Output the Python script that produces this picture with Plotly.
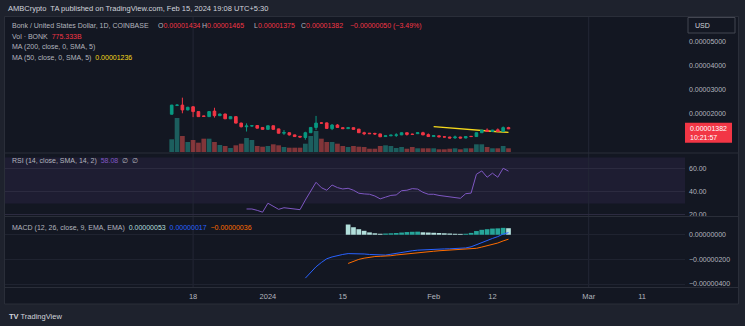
import pandas as pd
import plotly.graph_objects as go

# ---------------- data ----------------
PRICE_UNIT = 1e-5      # OHLC / MA lists are in units of 0.00001 USD
MACD_UNIT = 1e-6       # MACD lists are in units of 0.000001

dates = pd.date_range("2023-12-14", periods=64, freq="D")

open_ = [1.99, 2.36, 2.37, 2.17, 2.30, 2.10, 1.92, 1.89, 2.12, 1.93,
         2.00, 1.80, 1.89, 1.62, 1.47, 1.50, 1.52, 1.44, 1.36, 1.51,
         1.38, 1.20, 1.22, 1.13, 1.07, 1.02, 1.22, 1.44, 1.63, 1.63,
         1.39, 1.54, 1.43, 1.39, 1.43, 1.37, 1.22, 1.20, 1.19, 1.17,
         1.06, 1.09, 1.11, 1.13, 1.22, 1.16, 1.18, 1.22, 1.14, 1.06,
         1.09, 1.05, 1.04, 1.01, 1.04, 1.00, 1.07, 1.06, 1.22, 1.33,
         1.27, 1.34, 1.27, 1.434]
high = [2.38, 2.40, 2.68, 2.30, 2.33, 2.11, 1.93, 2.11, 2.26, 2.01,
        2.01, 1.90, 1.90, 1.64, 1.61, 1.53, 1.54, 1.45, 1.52, 1.52,
        1.39, 1.33, 1.23, 1.14, 1.08, 1.26, 1.45, 1.92, 1.66, 1.65,
        1.58, 1.58, 1.44, 1.46, 1.44, 1.38, 1.26, 1.21, 1.22, 1.18,
        1.10, 1.12, 1.20, 1.23, 1.23, 1.18, 1.23, 1.26, 1.19, 1.11,
        1.10, 1.07, 1.05, 1.10, 1.05, 1.08, 1.08, 1.23, 1.34, 1.40,
        1.34, 1.40, 1.48, 1.465]
low = [1.98, 2.33, 2.03, 2.15, 1.87, 1.88, 1.89, 1.88, 1.85, 1.92,
       1.79, 1.79, 1.61, 1.44, 1.27, 1.48, 1.40, 1.35, 1.35, 1.35,
       1.19, 1.13, 1.10, 1.05, 1.03, 0.93, 1.21, 1.33, 1.60, 1.39,
       1.33, 1.43, 1.38, 1.38, 1.35, 1.21, 1.12, 1.17, 1.13, 1.04,
       1.05, 1.08, 1.04, 1.12, 1.10, 1.14, 1.17, 1.12, 1.05, 1.05,
       1.04, 1.03, 0.99, 0.96, 0.99, 0.99, 1.05, 1.05, 1.21, 1.25,
       1.26, 1.26, 1.26, 1.375]
close = [2.37, 2.37, 2.17, 2.28, 2.10, 1.89, 1.90, 2.10, 1.93, 2.00,
         1.80, 1.89, 1.62, 1.47, 1.50, 1.51, 1.41, 1.36, 1.51, 1.36,
         1.20, 1.23, 1.13, 1.06, 1.04, 1.22, 1.44, 1.62, 1.62, 1.40,
         1.54, 1.44, 1.39, 1.43, 1.36, 1.22, 1.18, 1.18, 1.17, 1.05,
         1.09, 1.12, 1.13, 1.22, 1.15, 1.15, 1.22, 1.13, 1.06, 1.10,
         1.05, 1.04, 1.00, 1.04, 1.00, 1.06, 1.06, 1.22, 1.33, 1.27,
         1.33, 1.27, 1.432, 1.382]

# daily volume, billions of BONK
volume_b = [2660, 7120, 3350, 2100, 2510, 1950, 2790, 2790, 2100, 1470,
            1260, 840, 1400, 1740, 2930, 2510, 1260, 1110, 1260, 1610,
            1400, 1050, 900, 900, 900, 1740, 3350, 4400, 2790, 2100,
            2100, 1740, 1260, 1050, 1260, 1110, 1050, 690, 690, 1260,
            1400, 1260, 840, 1050, 690, 1050, 775, 775, 775, 775,
            565, 565, 690, 775, 565, 775, 775, 1610, 1610, 1050,
            775, 775, 1260, 775.333]

ma50_start = 49
ma50 = [1.47, 1.45, 1.43, 1.41, 1.40, 1.37, 1.35, 1.33, 1.32, 1.29,
        1.28, 1.27, 1.26, 1.25, 1.236]

rsi_start = 14
rsi = [25.2, 25.2, 24.0, 22.4, 30.2, 27.4, 24.9, 26.3, 25.8, 25.3,
       24.6, 33.0, 40.5, 48.4, 43.7, 41.5, 46.0, 43.8, 42.6, 43.2,
       41.5, 38.9, 38.3, 38.0, 36.5, 34.0, 35.5, 37.0, 37.4, 41.1,
       41.5, 42.9, 42.5, 39.7, 38.0, 38.0, 37.0, 36.5, 36.0, 35.5,
       34.5, 38.5, 39.0, 55.4, 58.3, 52.8, 56.3, 52.8, 60.6, 58.08]

macd_start = 25
macd = [-3.52, -3.05, -2.60, -2.25, -1.95, -1.80, -1.68, -1.60, -1.53, -1.52,
        -1.53, -1.56, -1.60, -1.63, -1.66, -1.65, -1.58, -1.50, -1.42, -1.36,
        -1.30, -1.25, -1.22, -1.20, -1.18, -1.16, -1.15, -1.14, -1.13, -1.12,
        -1.07, -0.98, -0.80, -0.60, -0.45, -0.30, -0.15, 0.06, 0.17]

signal_start = 33
signal = [-2.33, -2.14, -2.00, -1.90, -1.82, -1.77, -1.75, -1.74, -1.70, -1.64,
          -1.59, -1.55, -1.51, -1.47, -1.42, -1.38, -1.34, -1.30, -1.27, -1.24,
          -1.21, -1.19, -1.16, -1.13, -1.10, -1.00, -0.90, -0.80, -0.67, -0.50,
          -0.36]
hist = [0.83, 0.61, 0.45, 0.32, 0.19, 0.12, 0.08, 0.10, 0.12, 0.14,
        0.18, 0.22, 0.24, 0.25, 0.20, 0.18, 0.16, 0.14, 0.12, 0.10,
        0.08, 0.07, 0.08, 0.15, 0.30, 0.40, 0.45, 0.50, 0.52, 0.56,
        0.53]

price_ticks = [2e-5, 3e-5, 4e-5, 5e-5]
rsi_ticks = [20, 40, 60]
macd_ticks = [0.0, -2e-6, -4e-6]
x_tick_dates = ["2023-12-18", "2024-01-01", "2024-01-15", "2024-02-01",
                "2024-02-12", "2024-03-01", "2024-03-11"]
x_tick_text = ["18", "2024", "15", "Feb", "12", "Mar", "11"]
grid_dates = ["2023-12-18", "2024-03-01"]

# ---------------- styling / layout geometry ----------------
W, H = 745, 326
ML, MR, MT, MB = 5, 60, 17, 39
PW, PH = W - ML - MR, H - MT - MB

BG = "#131722"
OUTER = "#1e222d"
BORDER = "#2a2e39"
TXT = "#b2b5be"
UP = "#089981"
DOWN = "#f23645"
MA_COLOR = "#f5d91c"
FONT = "Liberation Sans"


def px_x(px):
    return (px - ML) / PW


def px_y(py):
    return (H - MB - py) / PH


def fmt(v, nd=8):
    return f"{v:.{nd}f}".replace("-", "\u2212")


# time axis: first candle at x=171.7px, 5.346 px per day
day_px = 5.346
x0_date = dates[0] + pd.Timedelta(days=(ML - 171.7) / day_px)
x1_date = dates[0] + pd.Timedelta(days=(W - MR - 171.7) / day_px)
price_range = [0.417e-5, 6.04e-5]

p = lambda arr: [v * PRICE_UNIT for v in arr]
m = lambda arr: [v * MACD_UNIT for v in arr]

vol_colors = ["rgba(38,166,154,0.5)" if c >= o else "rgba(239,83,80,0.5)"
              for o, c in zip(open_, close)]
hist_colors = []
for i, h in enumerate(hist):
    prev = hist[i - 1] if i > 0 else h
    if h >= 0:
        hist_colors.append("#26a69a" if h > prev else "#b2dfdb")
    else:
        hist_colors.append("#ff5252" if h < prev else "#ffcdd2")

fig = go.Figure()

# volume (base axis of the main pane, hidden)
fig.add_trace(go.Bar(x=dates, y=volume_b, marker_color=vol_colors,
                     marker_line_width=0, xaxis="x", yaxis="y",
                     hoverinfo="skip"))
# 50-day moving average (drawn beneath the candles)
fig.add_trace(go.Scatter(x=dates[ma50_start:], y=p(ma50), mode="lines",
                         line=dict(color=MA_COLOR, width=1.3),
                         xaxis="x", yaxis="y2", hoverinfo="skip"))
# price candles
fig.add_trace(go.Candlestick(
    x=dates, open=p(open_), high=p(high), low=p(low), close=p(close),
    increasing=dict(line=dict(color=UP, width=1), fillcolor=UP),
    decreasing=dict(line=dict(color=DOWN, width=1), fillcolor=DOWN),
    whiskerwidth=0, xaxis="x", yaxis="y5", hoverinfo="skip"))
# RSI
fig.add_trace(go.Scatter(x=dates[rsi_start:], y=rsi, mode="lines",
                         line=dict(color="#7e57c2", width=1),
                         xaxis="x", yaxis="y3", hoverinfo="skip"))
# MACD histogram + lines
fig.add_trace(go.Bar(x=dates[signal_start:], y=m(hist), marker_color=hist_colors,
                     marker_line_width=0, xaxis="x", yaxis="y4",
                     hoverinfo="skip"))
fig.add_trace(go.Scatter(x=dates[macd_start:], y=m(macd), mode="lines",
                         line=dict(color="#2962ff", width=1),
                         xaxis="x", yaxis="y4", hoverinfo="skip"))
fig.add_trace(go.Scatter(x=dates[signal_start:], y=m(signal), mode="lines",
                         line=dict(color="#ff6d00", width=1),
                         xaxis="x", yaxis="y4", hoverinfo="skip"))

main_dom = [px_y(152), 1.0]
rsi_dom = [px_y(216), px_y(154)]
macd_dom = [0.0, px_y(217)]

tickfont = dict(family=FONT, size=7, color=TXT)
vmax = max(volume_b)

fig.update_layout(
    width=W, height=H,
    margin=dict(l=ML, r=MR, t=MT, b=MB),
    paper_bgcolor=OUTER, plot_bgcolor=BG,
    showlegend=False, barmode="overlay", bargap=0.12,
    font=dict(family=FONT, size=7, color=TXT),
    xaxis=dict(type="date", range=[x0_date, x1_date], anchor="y4",
               rangeslider=dict(visible=False), showgrid=False,
               zeroline=False, showline=False, ticks="",
               tickvals=x_tick_dates, ticktext=x_tick_text,
               tickfont=dict(family=FONT, size=7.5, color=TXT),
               ticklabelstandoff=3, automargin=False, fixedrange=True),
    yaxis=dict(domain=main_dom, range=[0, vmax * 135 / 34], visible=False,
               fixedrange=True),
    yaxis2=dict(domain=main_dom, overlaying="y", side="right", anchor="x",
                range=price_range, showgrid=False, zeroline=False,
                tickvals=price_ticks, ticktext=[fmt(v) for v in price_ticks],
                tickfont=tickfont, ticks="", ticklabelstandoff=3,
                automargin=False, fixedrange=True),
    yaxis5=dict(domain=main_dom, overlaying="y", side="right", anchor="x",
                range=price_range, visible=False, fixedrange=True),
    yaxis3=dict(domain=rsi_dom, side="right", anchor="x",
                range=[19.1, 73.0], showgrid=True, gridcolor="#2c2b40",
                zeroline=False, tickvals=rsi_ticks,
                ticktext=[f"{v:.2f}" for v in rsi_ticks], tickfont=tickfont,
                ticks="", ticklabelstandoff=3, automargin=False,
                fixedrange=True),
    yaxis4=dict(domain=macd_dom, side="right", anchor="x",
                range=[-4.24e-6, 1.44e-6], showgrid=True, gridcolor="#1f2330",
                zeroline=False, tickvals=macd_ticks,
                ticktext=[fmt(v) for v in macd_ticks], tickfont=tickfont,
                ticks="", ticklabelstandoff=3, automargin=False,
                fixedrange=True),
)

shapes = []
# chart frame
shapes.append(dict(type="rect", xref="paper", yref="paper",
                   x0=px_x(4.5), x1=px_x(738.5), y0=px_y(304), y1=px_y(16.5),
                   fillcolor=BG, line=dict(color=BORDER, width=1), layer="below"))
# pane separators
for yy in (153, 216.5, 287.5):
    shapes.append(dict(type="line", xref="paper", yref="paper",
                       x0=px_x(4.5), x1=px_x(738.5), y0=px_y(yy), y1=px_y(yy),
                       line=dict(color=BORDER, width=1)))
# RSI band 30-70
shapes.append(dict(type="rect", xref="paper", yref="y3", x0=0, x1=1,
                   y0=30, y1=70, fillcolor="rgba(126,87,194,0.1)",
                   line=dict(width=0), layer="below"))
# vertical grid lines
for d in grid_dates:
    shapes.append(dict(type="line", xref="x", yref="paper", x0=d, x1=d,
                       y0=0, y1=1, line=dict(color="#232736", width=1),
                       layer="below"))
# currency box
shapes.append(dict(type="rect", xref="paper", yref="paper",
                   x0=px_x(688), x1=px_x(735), y0=px_y(33), y1=px_y(17.5),
                   fillcolor=BG, line=dict(color="#434651", width=1)))
# last price label box
last = close[-1] * PRICE_UNIT
shapes.append(dict(type="rect", xref="paper", yref="y2", ysizemode="pixel",
                   yanchor=last, y0=-14, y1=6,
                   x0=px_x(685), x1=px_x(732),
                   fillcolor=DOWN, line=dict(width=0)))
fig.update_layout(shapes=shapes)

ann = []


def text(px, py, s, color=TXT, size=7, xanchor="left", **kw):
    ann.append(dict(xref="paper", yref="paper", x=px_x(px), y=px_y(py),
                    text=s, showarrow=False, xanchor=xanchor,
                    yanchor="middle", font=dict(family=FONT, size=size,
                                                color=color), **kw))


def span(s, color):
    return f"<span style='color:{color}'>{s}</span>"


text(6, 8.5, "AMBCrypto  TA published on TradingView.com, Feb 15, 2024 19:08 UTC+5:30",
     color="#d1d4dc", size=7.5)

# symbol legend
text(10, 25.7, "Bonk / United States Dollar, 1D, COINBASE")
for lab, val, xx in (("O", open_[-1], 156), ("H", high[-1], 200.5),
                     ("L", low[-1], 251.5), ("C", close[-1], 298.5)):
    text(xx, 25.7, lab + span(fmt(val * PRICE_UNIT), DOWN))
chg = (close[-1] - close[-2]) * PRICE_UNIT
pct = (close[-1] - close[-2]) / close[-2] * 100
text(347.5, 25.7, span(f"{fmt(chg)} ({fmt(pct, 2)}%)", DOWN))
text(10, 36, "Vol \u00b7 BONK  " + span(f"{volume_b[-1]:.3f}B", DOWN))
text(10, 47, "MA (200, close, 0, SMA, 5)")
text(10, 58, "MA (50, close, 0, SMA, 5)  " +
     span(fmt(ma50[-1] * PRICE_UNIT), MA_COLOR))

# indicator legends
text(10, 160.7, "RSI (14, close, SMA, 14, 2)  " + span(f"{rsi[-1]:.2f}", "#7e57c2")
     + "  \u2205  \u2205")
text(10, 227.7, "MACD (12, 26, close, 9, EMA, EMA)  "
     + span(fmt(hist[-1] * MACD_UNIT), "#b2dfdb") + "  "
     + span(fmt(macd[-1] * MACD_UNIT), "#2962ff") + "  "
     + span(fmt(signal[-1] * MACD_UNIT), "#ff6d00"))

# price scale extras
text(693, 25.3, "USD", color="#d1d4dc")
ann.append(dict(xref="paper", yref="y2", x=px_x(688), y=last, text=fmt(last),
                showarrow=False, xanchor="left", yanchor="middle",
                font=dict(family=FONT, size=7, color="#ffffff")))
ann.append(dict(xref="paper", yref="y2", x=px_x(688), y=last, yshift=-9,
                text="10:21:57", showarrow=False, xanchor="left",
                yanchor="middle",
                font=dict(family=FONT, size=7, color="#ffffff")))

# footer
text(7, 316, "<b>TV</b> TradingView", color="#d1d4dc", size=7.5)

fig.update_layout(annotations=ann)

fig.write_html("out.html", config=dict(displayModeBar=False, staticPlot=True))
